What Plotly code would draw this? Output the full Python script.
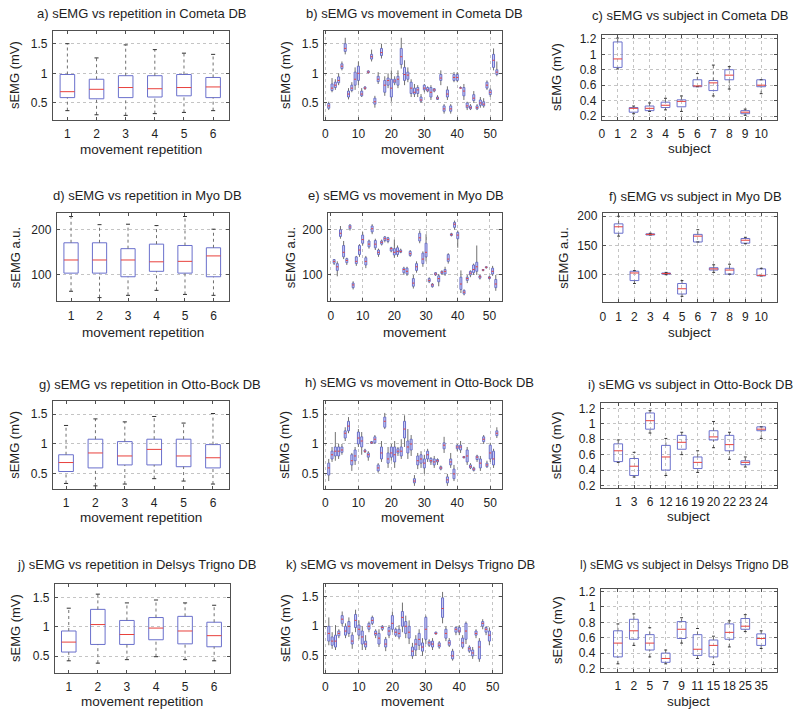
import plotly.graph_objects as go

W, H = 800, 717
FONT = "Liberation Sans, Arial, sans-serif"

# ---------------- data: (lower whisker, q1, median, q3, upper whisker) ----------------
REP_X = [1, 2, 3, 4, 5, 6]

REP_COMETA = [(0.37, 0.59, 0.69, 0.98, 1.50), (0.30, 0.57, 0.73, 0.90, 1.26),
              (0.29, 0.59, 0.76, 0.96, 1.48), (0.32, 0.60, 0.74, 0.96, 1.40),
              (0.34, 0.62, 0.76, 0.98, 1.34), (0.37, 0.59, 0.77, 0.93, 1.32)]
REP_MYO = [(64, 104, 133, 171, 229), (50, 104, 133, 171, 211), (55, 96, 133, 158, 212),
           (66, 108, 129, 168, 209), (57, 104, 130, 165, 229), (55, 96, 142, 160, 201)]
REP_OTTO = [(0.34, 0.54, 0.69, 0.82, 1.31), (0.30, 0.60, 0.85, 1.08, 1.42),
            (0.33, 0.65, 0.80, 1.04, 1.37), (0.42, 0.65, 0.91, 1.08, 1.46),
            (0.38, 0.62, 0.80, 1.08, 1.35), (0.33, 0.60, 0.77, 0.99, 1.51)]
REP_DELSYS = [(0.42, 0.57, 0.74, 0.93, 1.32), (0.38, 0.70, 1.04, 1.30, 1.56),
              (0.44, 0.70, 0.87, 1.11, 1.41), (0.49, 0.78, 0.98, 1.16, 1.46),
              (0.44, 0.71, 0.93, 1.18, 1.41), (0.42, 0.66, 0.85, 1.08, 1.37)]

MOVE_COMETA = [
    (0.38, 0.41, 0.45, 0.49, 0.52), (0.68, 0.71, 0.75, 0.82, 0.92), (0.72, 0.76, 0.80, 0.85, 0.90),
    (0.80, 0.84, 0.88, 0.94, 1.00), (1.05, 1.08, 1.12, 1.16, 1.20), (1.32, 1.37, 1.42, 1.50, 1.60),
    (0.56, 0.60, 0.65, 0.70, 0.75), (0.68, 0.71, 0.75, 0.80, 0.85), (0.72, 0.80, 0.90, 1.02, 1.10),
    (0.80, 0.88, 1.00, 1.12, 1.20), (0.60, 0.62, 0.65, 0.70, 0.75), (0.72, 0.74, 0.75, 0.77, 0.78),
    (1.00, 1.01, 1.02, 1.04, 1.05), (1.20, 1.24, 1.28, 1.32, 1.40), (0.42, 0.48, 0.52, 0.58, 0.62),
    (0.82, 0.86, 0.90, 0.95, 1.02), (1.25, 1.30, 1.35, 1.42, 1.50), (0.62, 0.68, 0.80, 0.88, 0.95),
    (0.75, 0.80, 0.88, 0.92, 1.00), (0.52, 0.60, 0.75, 0.90, 1.05), (0.80, 0.84, 0.87, 0.90, 0.95),
    (0.75, 0.80, 0.90, 0.95, 1.05), (1.08, 1.15, 1.28, 1.42, 1.60), (0.80, 0.88, 0.98, 1.10, 1.22),
    (0.85, 0.90, 0.97, 1.02, 1.10), (0.60, 0.66, 0.75, 0.85, 0.90), (0.60, 0.65, 0.68, 0.75, 0.82),
    (0.60, 0.66, 0.72, 0.76, 0.80), (0.50, 0.53, 0.55, 0.60, 0.65), (0.68, 0.72, 0.75, 0.80, 0.82),
    (0.68, 0.70, 0.72, 0.76, 0.78), (0.55, 0.60, 0.68, 0.76, 0.80), (0.68, 0.70, 0.72, 0.74, 0.75),
    (0.55, 0.56, 0.58, 0.60, 0.63), (0.80, 0.88, 0.92, 0.98, 1.05), (0.32, 0.36, 0.40, 0.45, 0.48),
    (0.55, 0.60, 0.65, 0.72, 0.78), (0.32, 0.36, 0.40, 0.45, 0.48), (0.85, 0.88, 0.93, 0.98, 1.02),
    (0.85, 0.88, 0.93, 0.98, 1.02), (0.75, 0.75, 0.75, 0.76, 0.78), (0.55, 0.62, 0.70, 0.76, 0.82),
    (0.38, 0.42, 0.45, 0.50, 0.52), (0.38, 0.40, 0.42, 0.45, 0.48), (0.50, 0.54, 0.58, 0.64, 0.70),
    (0.38, 0.40, 0.42, 0.45, 0.48), (0.42, 0.46, 0.50, 0.55, 0.60), (0.42, 0.45, 0.48, 0.52, 0.58),
    (0.72, 0.75, 0.80, 0.85, 0.88), (0.60, 0.64, 0.68, 0.72, 0.75), (1.05, 1.10, 1.22, 1.32, 1.42),
    (0.95, 0.98, 1.02, 1.06, 1.20)]
MOVE_MYO = [
    (122, 126, 130, 134, 135), (97, 110, 118, 125, 130), (180, 185, 192, 200, 208),
    (135, 140, 150, 165, 175), (122, 127, 132, 136, 138), (198, 202, 206, 210, 212),
    (68, 72, 78, 82, 86), (120, 125, 130, 140, 142), (140, 145, 155, 165, 168),
    (165, 170, 178, 188, 195), (115, 122, 130, 138, 142), (158, 162, 168, 175, 178),
    (190, 195, 202, 208, 212), (155, 160, 168, 176, 180), (140, 145, 150, 155, 158),
    (165, 168, 172, 175, 178), (172, 176, 180, 184, 186), (170, 174, 178, 182, 184),
    (150, 153, 158, 160, 162), (138, 144, 150, 158, 178), (140, 145, 152, 160, 165),
    (148, 150, 152, 155, 158), (100, 105, 112, 115, 118), (98, 102, 108, 115, 118),
    (140, 143, 147, 152, 155), (70, 75, 82, 92, 100), (105, 110, 118, 125, 130),
    (170, 175, 182, 192, 198), (118, 125, 135, 148, 152), (130, 140, 150, 170, 190),
    (82, 85, 88, 92, 95), (72, 74, 78, 80, 82), (98, 100, 102, 105, 106),
    (75, 85, 92, 98, 102), (100, 103, 106, 108, 110), (98, 102, 108, 112, 118),
    (125, 130, 135, 145, 148), (185, 187, 189, 191, 193), (200, 205, 212, 216, 220),
    (160, 180, 188, 194, 198), (60, 68, 80, 95, 110), (55, 58, 62, 66, 68),
    (82, 88, 92, 95, 100), (95, 100, 104, 108, 110), (100, 105, 112, 122, 125),
    (100, 108, 118, 128, 165), (90, 93, 96, 98, 100), (108, 110, 111, 112, 113),
    (114, 116, 117, 118, 119), (90, 92, 94, 96, 98), (98, 102, 108, 115, 120),
    (65, 72, 80, 90, 100)]
MOVE_OTTO = [
    (0.38, 0.48, 0.60, 0.68, 0.75), (0.70, 0.75, 0.82, 0.88, 0.95), (0.72, 0.80, 0.88, 0.95, 1.20),
    (0.75, 0.80, 0.88, 0.95, 1.00), (0.82, 0.86, 0.90, 0.95, 1.00), (1.05, 1.10, 1.18, 1.22, 1.28),
    (1.18, 1.22, 1.30, 1.38, 1.45), (0.55, 0.65, 0.72, 0.82, 0.85), (0.65, 0.72, 0.80, 0.90, 0.95),
    (0.95, 1.00, 1.10, 1.20, 1.25), (0.82, 0.95, 1.05, 1.12, 1.20), (0.85, 0.87, 0.88, 0.90, 0.92),
    (0.72, 0.78, 0.82, 0.85, 0.88), (1.00, 1.01, 1.02, 1.04, 1.05), (1.00, 1.02, 1.08, 1.12, 1.15),
    (0.52, 0.55, 0.60, 0.65, 0.68), (0.70, 0.75, 0.85, 0.95, 1.05), (1.25, 1.28, 1.38, 1.45, 1.52),
    (0.60, 0.68, 0.75, 0.85, 0.95), (0.72, 0.78, 0.85, 0.95, 1.00), (0.60, 0.70, 0.82, 0.95, 1.05),
    (0.80, 0.85, 0.88, 0.92, 0.95), (0.75, 0.80, 0.88, 0.95, 1.08), (0.95, 1.10, 1.25, 1.38, 1.48),
    (0.75, 0.85, 0.95, 1.05, 1.25), (0.80, 0.90, 1.00, 1.08, 1.15), (0.30, 0.35, 0.38, 0.42, 0.48),
    (0.58, 0.65, 0.72, 0.80, 0.85), (0.60, 0.68, 0.75, 0.82, 0.88), (0.50, 0.60, 0.68, 0.75, 0.82),
    (0.70, 0.75, 0.82, 0.88, 0.92), (0.65, 0.70, 0.72, 0.76, 0.78), (0.60, 0.65, 0.70, 0.75, 0.80),
    (0.65, 0.70, 0.72, 0.74, 0.76), (0.56, 0.58, 0.60, 0.62, 0.64), (0.85, 0.92, 0.98, 1.02, 1.12),
    (0.30, 0.35, 0.40, 0.45, 0.50), (0.60, 0.65, 0.70, 0.75, 0.85), (0.38, 0.42, 0.50, 0.58, 0.65),
    (0.88, 0.92, 0.95, 0.98, 1.00), (0.85, 0.90, 0.95, 0.98, 1.05), (0.76, 0.77, 0.78, 0.79, 0.80),
    (0.65, 0.70, 0.80, 0.90, 0.95), (0.58, 0.60, 0.62, 0.65, 0.68), (0.54, 0.56, 0.58, 0.60, 0.62),
    (0.70, 0.74, 0.78, 0.80, 0.82), (0.55, 0.60, 0.68, 0.75, 0.80), (1.00, 1.04, 1.08, 1.12, 1.15),
    (0.60, 0.62, 0.65, 0.68, 0.72), (0.70, 0.75, 0.85, 0.98, 1.02), (0.60, 0.65, 0.75, 0.88, 0.92),
    (1.10, 1.14, 1.18, 1.22, 1.28)]
MOVE_DELSYS = [
    (0.68, 0.75, 0.88, 1.00, 1.15), (0.62, 0.68, 0.75, 0.82, 0.90), (0.60, 0.65, 0.75, 0.85, 1.02),
    (0.80, 0.84, 0.88, 0.92, 0.95), (1.00, 1.05, 1.12, 1.18, 1.25), (0.80, 0.85, 0.92, 1.00, 1.05),
    (0.82, 0.88, 1.00, 1.08, 1.15), (0.62, 0.70, 0.75, 0.85, 0.90), (0.90, 0.98, 1.10, 1.20, 1.28),
    (0.78, 0.85, 0.95, 1.02, 1.10), (0.60, 0.70, 0.82, 0.92, 1.00), (0.60, 0.65, 0.70, 0.75, 0.85),
    (0.90, 0.95, 1.00, 1.05, 1.08), (1.02, 1.05, 1.10, 1.15, 1.18), (0.80, 0.85, 0.88, 0.92, 0.95),
    (0.65, 0.70, 0.80, 0.88, 0.95), (0.92, 0.95, 0.98, 1.00, 1.02), (0.58, 0.65, 0.70, 0.78, 0.82),
    (0.80, 0.85, 0.92, 0.98, 1.02), (0.90, 0.95, 1.05, 1.18, 1.25), (0.82, 0.85, 0.90, 0.95, 0.98),
    (0.78, 0.82, 0.88, 0.95, 1.02), (0.90, 1.00, 1.15, 1.25, 1.40), (0.80, 0.88, 1.00, 1.08, 1.18),
    (0.70, 0.80, 0.90, 1.00, 1.10), (0.45, 0.50, 0.58, 0.65, 0.72), (0.50, 0.60, 0.70, 0.78, 0.85),
    (0.60, 0.68, 0.78, 0.88, 0.95), (0.50, 0.58, 0.65, 0.72, 0.80), (0.70, 0.78, 0.95, 1.15, 1.18),
    (0.65, 0.68, 0.72, 0.75, 0.78), (0.60, 0.65, 0.70, 0.75, 0.80), (0.86, 0.87, 0.88, 0.90, 0.91),
    (0.62, 0.65, 0.68, 0.72, 0.75), (1.05, 1.15, 1.30, 1.48, 1.58), (0.75, 0.80, 0.88, 0.95, 1.00),
    (0.65, 0.68, 0.72, 0.76, 0.80), (0.42, 0.45, 0.50, 0.58, 0.62), (0.85, 0.90, 0.95, 0.98, 1.00),
    (0.85, 0.90, 0.92, 0.98, 1.02), (0.62, 0.65, 0.72, 0.80, 0.85), (0.70, 0.78, 0.92, 1.05, 1.08),
    (0.55, 0.58, 0.62, 0.65, 0.68), (0.45, 0.50, 0.55, 0.60, 0.65), (0.80, 0.85, 0.88, 0.92, 0.95),
    (0.40, 0.45, 0.65, 0.75, 0.80), (0.95, 1.00, 1.05, 1.08, 1.12), (0.85, 0.90, 0.95, 0.98, 1.00),
    (0.68, 0.75, 0.85, 0.92, 0.98)]

SUBJ_POS = [1, 2, 3, 4, 5, 6, 7, 8, 9, 10]
SUBJ_COMETA = [(0.81, 0.83, 0.94, 1.16, 1.21), (0.23, 0.25, 0.30, 0.31, 0.33),
               (0.26, 0.27, 0.30, 0.33, 0.37), (0.28, 0.31, 0.34, 0.38, 0.43),
               (0.26, 0.32, 0.39, 0.41, 0.46), (0.58, 0.58, 0.59, 0.67, 0.75),
               (0.46, 0.53, 0.63, 0.66, 0.86), (0.55, 0.67, 0.73, 0.80, 0.84),
               (0.21, 0.23, 0.25, 0.27, 0.29), (0.49, 0.58, 0.60, 0.67, 0.67)]
SUBJ_MYO = [(166, 171, 182, 187, 200), (85, 90, 103, 106, 107), (168, 168, 169, 170, 171),
            (100, 101, 102, 103, 104), (63, 67, 76, 85, 90), (156, 156, 166, 169, 177),
            (104, 108, 110, 112, 117), (101, 101, 108, 111, 118), (153, 154, 159, 162, 164),
            (98, 98, 99, 110, 111)]
SUBJ_OTTO_LABELS = ["1", "3", "6", "12", "16", "19", "20", "22", "23", "24"]
SUBJ_OTTO = [(0.50, 0.51, 0.65, 0.74, 0.79), (0.31, 0.33, 0.45, 0.55, 0.63),
             (0.88, 0.93, 1.04, 1.14, 1.17), (0.33, 0.40, 0.57, 0.72, 0.81),
             (0.60, 0.67, 0.76, 0.85, 0.89), (0.37, 0.42, 0.50, 0.57, 0.65),
             (0.69, 0.79, 0.83, 0.91, 1.03), (0.54, 0.65, 0.73, 0.85, 0.89),
             (0.44, 0.47, 0.50, 0.52, 0.57), (0.81, 0.91, 0.93, 0.96, 0.96)]
SUBJ_DELSYS_LABELS = ["1", "2", "5", "7", "9", "11", "15", "18", "25", "35"]
SUBJ_DELSYS = [(0.26, 0.35, 0.53, 0.69, 0.78), (0.50, 0.58, 0.69, 0.84, 0.91),
               (0.35, 0.44, 0.53, 0.64, 0.73), (0.26, 0.28, 0.33, 0.40, 0.44),
               (0.53, 0.59, 0.71, 0.81, 0.86), (0.33, 0.37, 0.45, 0.64, 0.72),
               (0.25, 0.35, 0.50, 0.57, 0.62), (0.48, 0.58, 0.67, 0.78, 0.82),
               (0.68, 0.71, 0.75, 0.85, 0.90), (0.46, 0.50, 0.59, 0.65, 0.69)]

TITLES = ["a) sEMG vs repetition in Cometa DB", "b) sEMG vs movement in Cometa DB",
          "c) sEMG vs subject in Cometa DB", "d) sEMG vs repetition in Myo DB",
          "e) sEMG vs movement in Myo DB", "f) sEMG vs subject in Myo DB",
          "g) sEMG vs repetition in Otto-Bock DB", "h) sEMG vs movement in Otto-Bock DB",
          "i) sEMG vs subject in Otto-Bock DB", "j) sEMG vs repetition in Delsys Trigno DB",
          "k) sEMG vs movement in Delsys Trigno DB", "l) sEMG vs subject in Delsys Trigno DB"]
XTITLES = ["movement repetition", "movement", "subject"] * 4
YTITLES = ["sEMG (mV)"] * 3 + ["sEMG a.u."] * 3 + ["sEMG (mV)"] * 6

# ---------------- styling / layout ----------------
BLUE = "#6a70cc"
RED = "#e8413c"
WHISK = "#707070"
GRID = "#c4c4c4"
FRAME = "#505050"
TXT = "#1e1e1e"

# plot areas in pixels: x0, x1, y0, y1
AREAS = [(50, 227, 27, 117), (322, 501, 27, 117), (601, 777, 31, 117),
         (54, 227, 212, 301), (326, 501, 212, 301), (602, 777, 212, 302),
         (50, 227, 402, 491), (322, 501, 402, 491), (600, 777, 404, 490),
         (52, 228, 587, 677), (322, 501, 587, 677), (600, 777, 592, 676)]
TITLE_CX = [140, 413, 690, 145, 405, 695, 148, 418, 690, 134, 409, 684]
TITLE_Y = [10, 10, 12, 194, 194, 195, 385, 383, 385, 568, 568, 568]
TITLE_SIZE = [13, 13, 13, 13, 13, 13, 13, 13, 13, 13, 13, 12]
XTITLE_Y = [147, 147, 146, 333, 333, 333, 520, 520, 519, 706, 706, 706]
YTITLE_X = [11, 283, 555, 12, 288, 563, 12, 283, 555, 12, 283, 556]

XRANGES = [(0.5, 6.55), (-0.5, 53.6), (0, 11), (0.5, 6.55), (-1.0, 54.0), (0, 11),
           (0.55, 6.55), (-0.5, 53.6), (-0.1, 11), (0.52, 6.55), (-0.5, 52.8), (-0.08, 11)]
YRANGES = [(0.22, 1.72), (0.22, 1.72), (0.155, 1.255), (42, 236), (42, 236), (53, 205),
           (0.25, 1.72), (0.25, 1.72), (0.17, 1.27), (0.22, 1.74), (0.22, 1.72), (0.16, 1.24)]

MV_T = [0.5, 1, 1.5]
SUB_T = [0.2, 0.4, 0.6, 0.8, 1.0, 1.2]
SUB_TT = ["0.2", "0.4", "0.6", "0.8", "1", "1.2"]
MOV_T = [0, 10, 20, 30, 40, 50]

panels = [
    dict(stats=REP_COMETA, xs=REP_X, kind="rep"),
    dict(stats=MOVE_COMETA, xs=list(range(1, len(MOVE_COMETA) + 1)), kind="mov"),
    dict(stats=SUBJ_COMETA, xs=SUBJ_POS, kind="sub"),
    dict(stats=REP_MYO, xs=REP_X, kind="rep"),
    dict(stats=MOVE_MYO, xs=list(range(1, len(MOVE_MYO) + 1)), kind="mov"),
    dict(stats=SUBJ_MYO, xs=SUBJ_POS, kind="sub"),
    dict(stats=REP_OTTO, xs=REP_X, kind="rep"),
    dict(stats=MOVE_OTTO, xs=list(range(1, len(MOVE_OTTO) + 1)), kind="mov"),
    dict(stats=SUBJ_OTTO, xs=SUBJ_POS, kind="sub"),
    dict(stats=REP_DELSYS, xs=REP_X, kind="rep"),
    dict(stats=MOVE_DELSYS, xs=list(range(1, len(MOVE_DELSYS) + 1)), kind="mov"),
    dict(stats=SUBJ_DELSYS, xs=SUBJ_POS, kind="sub"),
]

fig = go.Figure()
layout = dict(width=W, height=H, margin=dict(l=0, r=0, t=0, b=0),
              paper_bgcolor="white", plot_bgcolor="white", showlegend=False,
              barmode="overlay", font=dict(family=FONT, size=12, color=TXT))
annotations = []

for i, p in enumerate(panels):
    k = i + 1
    xa = "x" if k == 1 else f"x{k}"
    ya = "y" if k == 1 else f"y{k}"
    stats, xs, kind = p["stats"], p["xs"], p["kind"]
    lo = [s[0] for s in stats]
    q1 = [s[1] for s in stats]
    md = [s[2] for s in stats]
    q3 = [s[3] for s in stats]
    hi = [s[4] for s in stats]
    bw = {"rep": 0.5, "mov": 0.6, "sub": 0.55}[kind]
    cw = {"rep": 0.14, "mov": 0.3, "sub": 0.18}[kind]
    fill = "#cfcff2" if kind == "mov" else "rgba(255,255,255,0)"

    # whiskers
    wx, wy = [], []
    for x, a, b, c, d in zip(xs, lo, q1, q3, hi):
        wx += [x, x, None, x, x, None]
        wy += [c, d, None, a, b, None]
    fig.add_trace(go.Scatter(x=wx, y=wy, mode="lines", xaxis=xa, yaxis=ya, hoverinfo="skip",
                             line=dict(color=WHISK, width=1,
                                       dash="solid" if kind == "mov" else "3px,3px")))
    # caps
    if kind != "mov":
        cx, cy = [], []
        for x, a, d in zip(xs, lo, hi):
            cx += [x - cw / 2, x + cw / 2, None, x - cw / 2, x + cw / 2, None]
            cy += [a, a, None, d, d, None]
        fig.add_trace(go.Scatter(x=cx, y=cy, mode="lines", xaxis=xa, yaxis=ya, hoverinfo="skip",
                                 line=dict(color="#333", width=1)))
    # boxes
    fig.add_trace(go.Bar(x=xs, y=[c - b for b, c in zip(q1, q3)], base=q1, width=bw,
                         xaxis=xa, yaxis=ya, hoverinfo="skip",
                         marker=dict(color=fill, line=dict(color=BLUE, width=1))))
    # medians
    mx, my = [], []
    for x, m in zip(xs, md):
        mx += [x - bw / 2, x + bw / 2, None]
        my += [m, m, None]
    fig.add_trace(go.Scatter(x=mx, y=my, mode="lines", xaxis=xa, yaxis=ya, hoverinfo="skip",
                             line=dict(color=RED, width=1)))

    x0, x1, y0, y1 = AREAS[i]
    common = dict(showline=True, mirror="ticks", linecolor=FRAME, linewidth=1,
                  ticks="inside", ticklen=3, tickcolor=FRAME, zeroline=False,
                  gridcolor=GRID, griddash="dot", gridwidth=1,
                  tickfont=dict(family=FONT, size=12, color=TXT))
    xax = dict(common, domain=[x0 / W, x1 / W], range=list(XRANGES[i]), anchor=ya,
               ticklabelstandoff=3)
    yax = dict(common, domain=[1 - y1 / H, 1 - y0 / H], range=list(YRANGES[i]), anchor=xa,
               ticklabelstandoff=2)
    if kind == "rep":
        xax.update(tickvals=REP_X, showgrid=False)
    elif kind == "mov":
        xax.update(tickvals=MOV_T, showgrid=True)
    else:
        if i == 8:
            xax.update(tickvals=SUBJ_POS, ticktext=SUBJ_OTTO_LABELS)
        elif i == 11:
            xax.update(tickvals=SUBJ_POS, ticktext=SUBJ_DELSYS_LABELS)
        else:
            xax.update(tickvals=[0] + SUBJ_POS)
        xax.update(showgrid=True)
    if i in (3, 4):
        yax.update(tickvals=[100, 200])
    elif i == 5:
        yax.update(tickvals=[100, 150, 200])
    elif kind == "sub":
        yax.update(tickvals=SUB_T, ticktext=SUB_TT)
    else:
        yax.update(tickvals=MV_T, ticktext=["0.5", "1", "1.5"])
    yax.update(showgrid=True)
    layout["xaxis" if k == 1 else f"xaxis{k}"] = xax
    layout["yaxis" if k == 1 else f"yaxis{k}"] = yax

    cxp = (x0 + x1) / 2 / W
    annotations.append(dict(text=TITLES[i], x=TITLE_CX[i] / W, y=1 - TITLE_Y[i] / H,
                            xref="paper", yref="paper", showarrow=False, xanchor="center",
                            yanchor="middle",
                            font=dict(family=FONT, size=TITLE_SIZE[i], color=TXT)))
    annotations.append(dict(text=XTITLES[i], x=cxp, y=1 - XTITLE_Y[i] / H, xref="paper",
                            yref="paper", showarrow=False, xanchor="center", yanchor="middle",
                            font=dict(family=FONT, size=13.5, color=TXT)))
    annotations.append(dict(text=YTITLES[i], x=YTITLE_X[i] / W, y=1 - (y0 + y1) / 2 / H,
                            xref="paper", yref="paper", showarrow=False, textangle=-90,
                            xanchor="center", yanchor="middle",
                            font=dict(family=FONT, size=13, color=TXT)))

layout["annotations"] = annotations
fig.update_layout(**layout)
fig.write_html("out.html", config={"displayModeBar": False},
               post_script="document.body.style.margin='0';document.body.style.overflow='hidden';")
